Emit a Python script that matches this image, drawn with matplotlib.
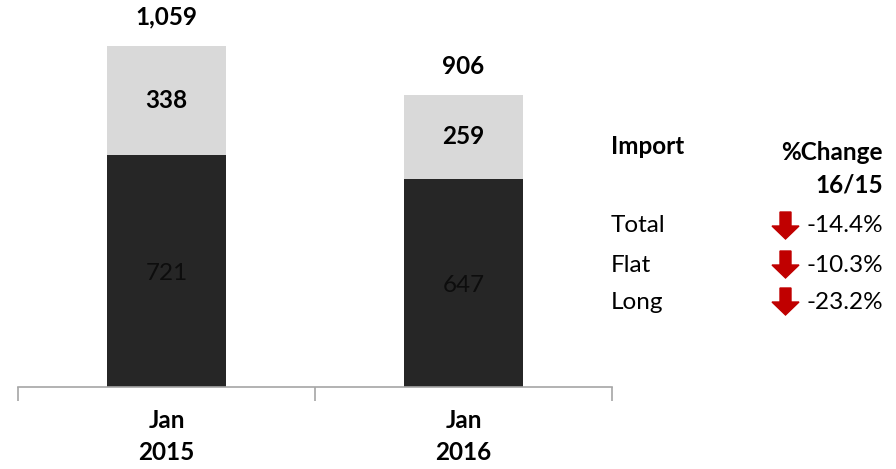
import matplotlib
matplotlib.use("Agg")
import matplotlib.pyplot as plt
from matplotlib.patches import FancyArrow

categories = ["Jan\n2015", "Jan\n2016"]
flat = [721, 647]
long_ = [338, 259]
totals = [1059, 906]
table_rows = ["Total", "Flat", "Long"]
table_changes = ["-14.4%", "-10.3%", "-23.2%"]

plt.rcParams['font.family'] = ['Lato', 'DejaVu Sans']

W, H = 896, 469
fig = plt.figure(figsize=(W / 100, H / 100), dpi=100)
ax = fig.add_axes([18 / W, 82 / H, (612 - 18) / W, (H - 82) / H])

x = list(range(len(categories)))
bw = 0.40
ax.bar(x, flat, width=bw, color="#262626", zorder=2)
ax.bar(x, long_, width=bw, bottom=flat, color="#D9D9D9", zorder=2)

FS = 17.5
for i in x:
    ax.text(i, flat[i] / 2 - 8, f"{flat[i]}", ha="center", va="center", fontsize=FS, color="#0d0d0d")
    ax.text(i, flat[i] + long_[i] / 2, f"{long_[i]}", ha="center", va="center", fontsize=FS,
            fontweight="bold", color="black")
    ax.text(i, totals[i] + 90, f"{totals[i]:,}", ha="center", va="center", fontsize=FS,
            fontweight="bold", color="black")

ax.set_xlim(-0.5, 1.5)
ax.set_ylim(0, 387 / 0.322)
for s in ["top", "right", "left"]:
    ax.spines[s].set_visible(False)
ax.spines["bottom"].set_color("#A6A6A6")
ax.spines["bottom"].set_linewidth(1.2)
ax.set_yticks([])
ax.set_xticks([-0.5, 0.5, 1.5], minor=False)
ax.set_xticklabels([])
ax.tick_params(axis="x", which="major", length=10, color="#A6A6A6", width=1.2, direction="out")
ax.set_xticks(x, minor=True)
ax.set_xticklabels(categories, minor=True, fontsize=FS, fontweight="bold", linespacing=1.45)
ax.tick_params(axis="x", which="minor", length=0, pad=16)

# Right side table
def fx(px):
    return px / W

def fy(py):
    return 1 - py / H

fig.text(fx(611), fy(147), "Import", ha="left", va="center", fontsize=FS, fontweight="bold")
fig.text(fx(883), fy(152), "%Change", ha="right", va="center", fontsize=FS, fontweight="bold")
fig.text(fx(883), fy(185), "16/15", ha="right", va="center", fontsize=FS, fontweight="bold")

row_y = [226, 265, 302]
for lab, val, py in zip(table_rows, table_changes, row_y):
    fig.text(fx(611), fy(py), lab, ha="left", va="center", fontsize=FS)
    fig.text(fx(883), fy(py), val, ha="right", va="center", fontsize=FS)
    # red down arrow
    top = fy(py - 14)
    arr = FancyArrow(fx(785.5), top, 0, -(27 / H), width=11 / W, head_width=27 / W,
                     head_length=13 / H, length_includes_head=True,
                     color="#C00000", transform=fig.transFigure, figure=fig)
    fig.patches.append(arr)

fig.savefig("out.png", dpi=100)
